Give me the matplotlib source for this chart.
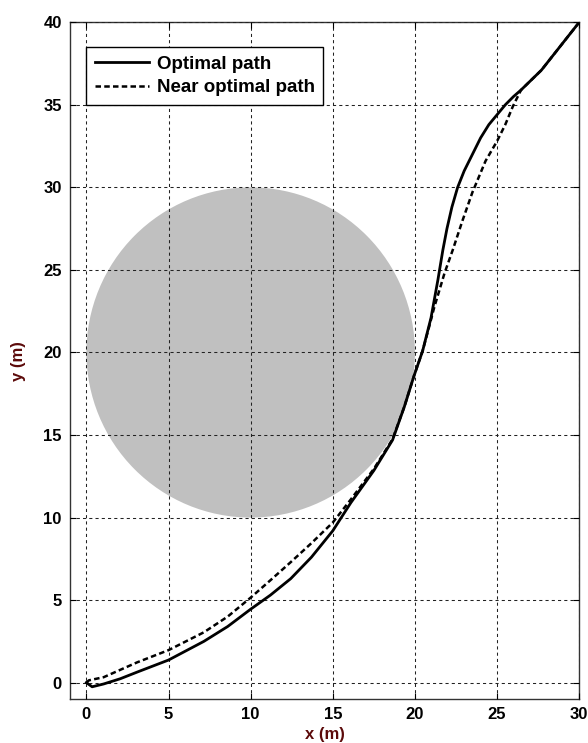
import matplotlib.pyplot as plt
from matplotlib.patches import Ellipse

plt.rcParams['font.family'] = ['Liberation Sans', 'DejaVu Sans']
plt.rcParams['font.weight'] = 'bold'

# obstacle: disc centred at (10, 20) with radius 10
obs_center = (10, 20)
obs_radius = 10

# optimal path
opt_x = [0, 0.35, 1.05, 2.07, 3.09, 5.0, 7.15, 8.6, 10.0, 11.2, 12.44, 13.7,
         15.0, 16.1, 17.5, 18.64, 19.35, 19.95, 20.47, 20.98, 21.4, 21.7,
         21.95, 22.25, 22.6, 23.0, 23.5, 24.0, 24.5, 25.0, 25.5, 26.0, 26.46,
         27.7, 30.0]
opt_y = [0, -0.25, -0.08, 0.24, 0.64, 1.37, 2.5, 3.4, 4.45, 5.3, 6.3, 7.6,
         9.2, 10.9, 12.85, 14.7, 16.7, 18.6, 20.1, 22.1, 24.4, 26.2,
         27.5, 28.8, 30.0, 31.0, 32.0, 33.0, 33.8, 34.4, 35.0, 35.5, 35.9,
         37.1, 40.0]

# near optimal path
near_x = [0, 0.15, 1.05, 3.09, 5.0, 7.15, 8.6, 10.0, 11.2, 12.44, 13.7, 15.0,
          16.1, 17.5, 18.64, 19.35, 19.95, 20.47, 20.85, 21.18, 21.5, 21.8,
          22.3, 22.9, 23.5, 24.3, 25.0, 25.5, 25.96, 26.46, 27.7, 30.0]
near_y = [0, 0.14, 0.33, 1.23, 1.97, 3.05, 4.0, 5.15, 6.2, 7.3, 8.45, 9.7,
          11.1, 12.95, 14.75, 16.7, 18.6, 20.1, 21.5, 22.75, 23.8, 24.8,
          26.2, 28.0, 29.7, 31.6, 32.8, 33.8, 34.9, 35.9, 37.1, 40.0]

xticks = [0, 5, 10, 15, 20, 25, 30]
yticks = [0, 5, 10, 15, 20, 25, 30, 35, 40]

fig = plt.figure(figsize=(5.88, 7.43), dpi=100)
ax = fig.add_axes([0.119, 0.059, 0.866, 0.911])

ax.add_patch(Ellipse(obs_center, 2 * obs_radius, 2 * obs_radius,
                     facecolor='#c0c0c0', edgecolor='none', zorder=1))

ax.plot(opt_x, opt_y, color='black', lw=2.0, label='Optimal path', zorder=3)
ax.plot(near_x, near_y, color='black', lw=1.8, linestyle=(0, (2.2, 1.3)),
        label='Near optimal path', zorder=3)

ax.set_xlim(-1, 30)
ax.set_ylim(-1, 40)
ax.set_xticks(xticks)
ax.set_yticks(yticks)
ax.grid(True, color='#222222', lw=0.75, linestyle=(0, (3, 3)), zorder=2)
ax.set_axisbelow(False)

ax.tick_params(direction='in', length=4, width=0.8, top=True, right=True,
               labelsize=12, colors='black', pad=6)
for lab in ax.get_xticklabels() + ax.get_yticklabels():
    lab.set_fontweight('bold')
for sp in ax.spines.values():
    sp.set_linewidth(1.0)
    sp.set_color('#333333')

ax.set_xlabel('x (m)', fontsize=12, fontweight='bold', color='#5c0a0a', labelpad=3)
ax.set_ylabel('y (m)', fontsize=12, fontweight='bold', color='#5c0a0a', labelpad=12)

leg = ax.legend(loc='lower left', bbox_to_anchor=(0, 35),
                bbox_transform=ax.transData, borderaxespad=0,
                fancybox=False, framealpha=1, edgecolor='black',
                prop={'size': 13.5, 'weight': 'bold'}, handlelength=2.9,
                handletextpad=0.4, borderpad=0.45, labelspacing=0.35)
leg.get_frame().set_linewidth(1.0)
leg.set_zorder(5)

fig.savefig('out.png', dpi=100)
